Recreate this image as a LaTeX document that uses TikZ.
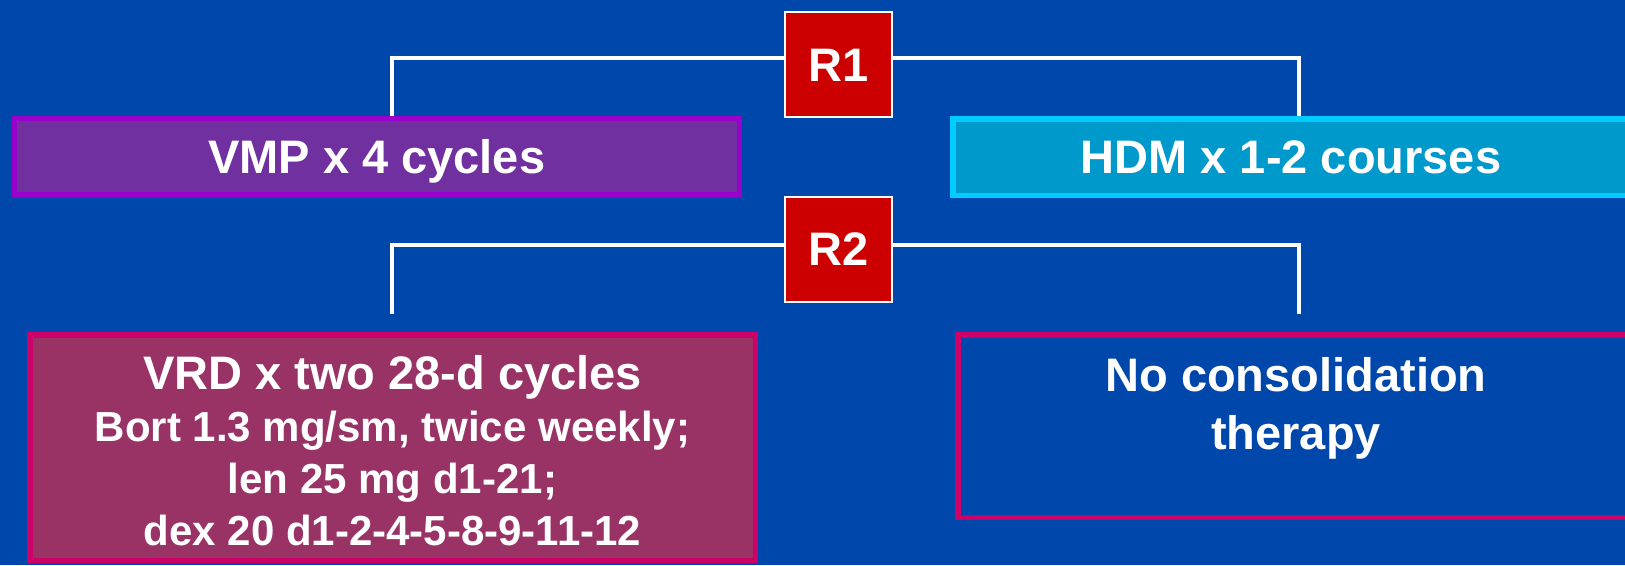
\documentclass[tikz,border=0pt]{standalone}
\usepackage{fontspec}
\setmainfont{Liberation Sans}
\definecolor{bgblue}{RGB}{0,71,171}
\definecolor{rred}{RGB}{204,0,0}
\definecolor{vmpfill}{RGB}{112,48,160}
\definecolor{vmpline}{RGB}{153,0,204}
\definecolor{hdmfill}{RGB}{0,153,204}
\definecolor{hdmline}{RGB}{0,204,255}
\definecolor{vrdfill}{RGB}{153,51,102}
\definecolor{pinkline}{RGB}{204,0,102}
\begin{document}
\begin{tikzpicture}[x=1pt,y=-1pt,
  bigfont/.style={font=\bfseries\fontsize{47}{56}\selectfont},
  capcentred/.style={text height=33.7pt, text depth=0pt},
  armbox/.style={draw, line width=5.5pt, rectangle, inner sep=0pt, text=white, bigfont},
  randbox/.style={draw=white, line width=2pt, fill=rred, rectangle,
    minimum width=107pt, minimum height=105pt, inner sep=0pt, text=white, bigfont, capcentred},
  boxtext/.style={text=white, inner sep=0pt, align=center},
  wire/.style={draw=white, line width=4pt},
]
% backdrop
\fill[bgblue] (0,0) rectangle (1625,565);
\clip (0,0) rectangle (1625,565);

% randomisation points
\node[randbox] (r1) at (838.75,64.9) {R1};
\node[randbox] (r2) at (838.75,249) {R2};

% first-stage arms
\node[armbox, capcentred, draw=vmpline, fill=vmpfill, minimum width=725pt, minimum height=76.5pt]
  (vmp) at (376.75,156.7) {VMP x 4 cycles};
\node[armbox, capcentred, draw=hdmline, fill=hdmfill, minimum width=676.5pt, minimum height=76.5pt]
  (hdm) at (1291,157) {HDM x 1-2 courses};

% second-stage arms
\node[armbox, draw=pinkline, fill=vrdfill, minimum width=725.5pt, minimum height=225.5pt]
  (vrd) at (392.5,447.5) {};
\node[armbox, draw=pinkline, minimum width=676pt, minimum height=182.5pt]
  (nocons) at (1296,426) {};

\node[boxtext, font=\bfseries\fontsize{42}{52}\selectfont] (vrdtext) at (392.5,451)
  {{\fontsize{47}{52}\selectfont VRD x two 28-d cycles}\\
   Bort 1.3 mg/sm, twice weekly;\\
   len 25 mg d1-21;\\
   dex 20 d1-2-4-5-8-9-11-12};
\node[boxtext, font=\bfseries\fontsize{47}{58}\selectfont] (noconstext) at (1296,408)
  {No consolidation\\therapy};

% connectors
\coordinate (colL) at (391.5,0);
\coordinate (colR) at (1298.5,0);
\coordinate (tailL) at (391.5,314);
\coordinate (tailR) at (1298.5,314);
\draw[wire] ([yshift=7pt]r1.west) -| (colL |- vmp.north);
\draw[wire] ([yshift=7pt]r1.east) -| (colR |- hdm.north);
\draw[wire] ([yshift=4.5pt]r2.west) -| (tailL);
\draw[wire] ([yshift=4.5pt]r2.east) -| (tailR);
\end{tikzpicture}
\end{document}
